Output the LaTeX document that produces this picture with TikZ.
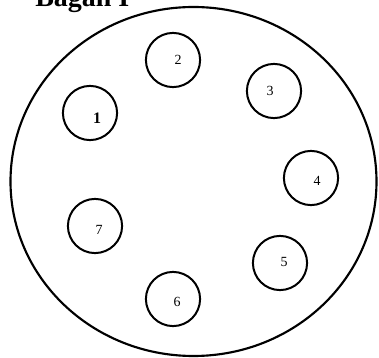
\documentclass[tikz,border=0pt]{standalone}
\usepackage{fontspec}
\setmainfont{Liberation Serif}
\usetikzlibrary{positioning}

\begin{document}
\begin{tikzpicture}[x=0.0264cm,y=-0.0264cm,
    plate/.style={draw,line width=1.6pt},
    hole/.style={draw,circle,line width=1.5pt,minimum size=1.43cm,inner sep=0pt},
    num/.style={font=\fontsize{10.5}{12}\selectfont}
  ]
    \useasboundingbox (0,0) rectangle (379,358);
    % title, cut at the top edge
    \node[anchor=base west,inner sep=0pt,font=\fontsize{21}{24}\selectfont\bfseries] (title) at (35,7) {Bagan I};

    % outer plate
    \draw[plate] (193.5,181.5) ellipse [x radius=183,y radius=174.5];

    % holes
    \node[hole] (h1) at (90,113)  {};
    \node[hole] (h2) at (173,60)  {};
    \node[hole] (h3) at (274,91)  {};
    \node[hole] (h4) at (311,178) {};
    \node[hole] (h5) at (280,263) {};
    \node[hole] (h6) at (173,299) {};
    \node[hole] (h7) at (95,226)  {};

    % numbers
    \node[num,font=\fontsize{12}{14}\selectfont\bfseries] (n1) at (97,118) {1};
    \node[num] (n2) at (178,60)  {2};
    \node[num] (n3) at (270,91)  {3};
    \node[num] (n4) at (317,181) {4};
    \node[num] (n5) at (284,262) {5};
    \node[num] (n6) at (177,302) {6};
    \node[num] (n7) at (99,230)  {7};
  \end{tikzpicture}
\end{document}
